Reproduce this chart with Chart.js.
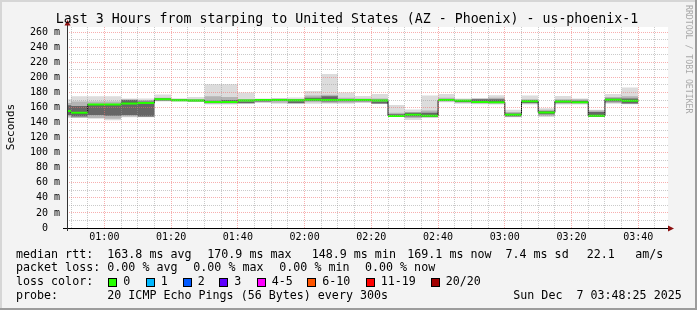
<!DOCTYPE html>
<html><head><meta charset="utf-8">
<script src="https://cdn.jsdelivr.net/npm/chart.js@4/dist/chart.umd.min.js"></script>
<style>html,body{margin:0;padding:0;background:#f3f3f3;}canvas{display:block;}</style>
</head><body>
<canvas id="c" width="697" height="310"></canvas>
<script>
// ---- data ----
const stepEnds = ['00:50','00:55','01:00','01:05','01:10','01:15','01:20','01:25','01:30','01:35','01:40','01:45','01:50','01:55','02:00','02:05','02:10','02:15','02:20','02:25','02:30','02:35','02:40','02:45','02:50','02:55','03:00','03:05','03:10','03:15','03:20','03:25','03:30','03:35','03:40'];
const medianRtt = [155.5,153,164,164,165.5,166,170.9,169.8,169.5,167.5,167.5,169.5,170,170,169.7,170.5,170,170,170,169.5,148.9,150.5,149,170,169,167.5,167,150.5,168.5,153.5,168,167,149,170.5,169.1];
const smokeMax = [171,175,175,175,172,172,177.5,172.5,174,191,191,180,172,172.5,173.5,182,204.5,180,175.5,178,163.5,157.5,176,178,172,172,176.5,157,176,159,175.5,172,157,178,186.5];
const smokeMidHi = [166,168,168,168,171,170,173,171,171,175,174,171,171,172,171,176,177,173,172,172,153,154,156,173,171,172,173,154,171,157,171,171,156,174,175];
const smokeCoreHi = [163,162,164,164,170,168,172,170,170,169,170,168,170.5,171.5,168.5,173,175,171,171,168,151,153,153,171.5,170,171,171,152,169,155,169.5,169,154,172,172];
const smokeCoreLo = [150,148,150,149,150,148,169.5,169,168.5,166,166,166,168,169,166,169,168,168.5,168.5,165.5,148,148,148,169,167.5,166.5,166,148.5,166,151,166.5,166,148.5,168,165.5];
const smokeMidLo = [148,146.5,146,145,148,147.5,169,168.5,168,165,165,165,167,166.5,165,167,166,166.5,167,165,147.5,146,147,168,166,165.5,165,147.5,165,149,165,165,148,166,165];
const smokeMin = [146,146,145,143,147,147,168,168,167.5,164,164,165,166,165,165,165,165,165,166,165,147.5,143.5,146,167,165,164.5,164,147,164,147.5,164,164,147.5,165,164.5];
const xTickLabels = ['01:00','01:20','01:40','02:00','02:20','02:40','03:00','03:20','03:40'];
const yTickValues = [20,40,60,80,100,120,140,160,180,200,220,240,260];
const yTickLabels = ['20 m','40 m','60 m','80 m','100 m','120 m','140 m','160 m','180 m','200 m','220 m','240 m','260 m'];
const lossLabels = ['0','1','2','3','4-5','6-10','11-19','20/20'];
const lossColors = ['#26ff00','#00b8ff','#0059ff','#5e00ff','#ff00ff','#ff5500','#ff0000','#a10000'];
const titleText = 'Last 3 Hours from starping to United States (AZ - Phoenix) - us-phoenix-1';
const rttStats = ['163.8 ms avg','170.9 ms max','148.9 ms min','169.1 ms now','7.4 ms sd','22.1','am/s'];
const lossStats = ['0.00 % avg','0.00 % max','0.00 % min','0.00 % now'];
const probeText = '20 ICMP Echo Pings (56 Bytes) every 300s';
const dateText = 'Sun Dec  7 03:48:25 2025';

// ---- helpers ----
const toMin = s => { const [h, m] = s.split(':').map(Number); return h * 60 + m; };
const xMin = 48.8, xMax = 228.9;
const stepPts = arr => [{x: xMin, y: arr[0]}].concat(stepEnds.map((s, i) => ({x: toMin(s), y: arr[i]})));
const greenPts = [];
stepEnds.forEach((s, i) => {
  const end = toMin(s), start = i === 0 ? xMin : toMin(stepEnds[i - 1]);
  greenPts.push({x: start, y: medianRtt[i]}, {x: end, y: medianRtt[i]}, {x: end, y: null});
});
const MONO = '"DejaVu Sans Mono", monospace';
const minorGrid = 'rgba(150,150,150,0.5)';
const majorGrid = 'rgba(240,110,110,0.55)';

const band = (data, order, fill, bg) => ({
  data: stepPts(data), order, stepped: 'after', pointRadius: 0, borderWidth: 0,
  borderColor: 'rgba(0,0,0,0)', backgroundColor: bg, fill
});

const decor = {
  id: 'decor',
  beforeDraw(chart) {
    const ctx = chart.ctx, W = chart.width, H = chart.height, a = chart.chartArea;
    ctx.save();
    ctx.fillStyle = '#f3f3f3'; ctx.fillRect(0, 0, W, H);
    ctx.fillStyle = '#d6d6d6'; ctx.fillRect(0, 0, W, 2); ctx.fillRect(0, 0, 2, H);
    ctx.fillStyle = '#9c9c9c'; ctx.fillRect(0, H - 2, W, 2); ctx.fillRect(W - 2, 0, 2, H);
    ctx.fillStyle = '#ffffff'; ctx.fillRect(a.left, a.top, a.right - a.left, a.bottom - a.top);
    ctx.restore();
  },
  afterDraw(chart) {
    const ctx = chart.ctx, a = chart.chartArea;
    ctx.save();
    // axes
    ctx.strokeStyle = '#000'; ctx.lineWidth = 1;
    ctx.beginPath(); ctx.moveTo(a.left - 4, a.bottom + 0.5); ctx.lineTo(a.right + 1, a.bottom + 0.5); ctx.stroke();
    ctx.strokeStyle = '#333';
    ctx.beginPath(); ctx.moveTo(a.left + 0.5, a.bottom + 3); ctx.lineTo(a.left + 0.5, a.top - 3); ctx.stroke();
    ctx.fillStyle = '#8b1010';
    ctx.beginPath(); ctx.moveTo(a.right + 6, a.bottom + 0.5); ctx.lineTo(a.right + 0, a.bottom - 2.5); ctx.lineTo(a.right + 0, a.bottom + 3.5); ctx.closePath(); ctx.fill();
    ctx.beginPath(); ctx.moveTo(a.left + 0.5, a.top - 7); ctx.lineTo(a.left - 2.5, a.top - 1.5); ctx.lineTo(a.left + 3.5, a.top - 1.5); ctx.closePath(); ctx.fill();
    // title
    ctx.fillStyle = '#000'; ctx.textBaseline = 'middle';
    ctx.font = '13.25px ' + MONO; ctx.textAlign = 'center';
    ctx.fillText(titleText, 347, 19.5);
    // y title
    ctx.save(); ctx.translate(11, 127); ctx.rotate(-Math.PI / 2);
    ctx.font = '11px ' + MONO; ctx.fillText('Seconds', 0, 0); ctx.restore();
    // watermark
    ctx.save(); ctx.translate(688.5, 5); ctx.rotate(Math.PI / 2);
    ctx.font = '8.2px ' + MONO; ctx.fillStyle = '#a8a8a8'; ctx.textAlign = 'left';
    ctx.fillText('RRDTOOL / TOBI OETIKER', 0, 0); ctx.restore();
    // legend
    ctx.font = '11.66px ' + MONO; ctx.textAlign = 'left'; ctx.fillStyle = '#000';
    const y1 = 254.5, y2 = 268.3, y3 = 282.3, y4 = 296;
    ctx.fillText('median rtt:', 16, y1);
    [107.3, 207.3, 311.7, 407.3, 505.5, 586.7, 635.3].forEach((x, i) => ctx.fillText(rttStats[i], x, y1));
    ctx.fillText('packet loss:', 16, y2);
    [107.3, 193.3, 279.3, 365].forEach((x, i) => ctx.fillText(lossStats[i], x, y2));
    ctx.fillText('loss color:', 16, y3);
    [108.3, 145.7, 182.7, 219.3, 256.7, 307.3, 365.7, 430.7].forEach((x, i) => {
      const sx = Math.round(x) + 0.5;
      ctx.fillStyle = lossColors[i]; ctx.fillRect(sx, 278.5, 8, 8);
      ctx.strokeStyle = '#000'; ctx.strokeRect(sx, 278.5, 8, 8);
      ctx.fillStyle = '#000'; ctx.fillText(lossLabels[i], x + 15, y3);
    });
    ctx.fillText('probe:', 16, y4);
    ctx.fillText(probeText, 107.3, y4);
    ctx.fillText(dateText, 513.3, y4);
    ctx.restore();
  }
};

new Chart(document.getElementById('c'), {
  type: 'line',
  data: {
    datasets: [
      {data: greenPts, order: 0, borderColor: lossColors[0], borderWidth: 2, pointRadius: 0, spanGaps: false, fill: false},
      {data: stepPts(medianRtt), order: 1, stepped: 'after', borderColor: '#111', borderWidth: 1, pointRadius: 0, fill: false},
      band(smokeCoreHi, 2, '+1', '#666666'),
      band(smokeCoreLo, 3, false, 'rgba(0,0,0,0)'),
      band(smokeMidHi, 4, '+1', '#b4b4b4'),
      band(smokeMidLo, 5, false, 'rgba(0,0,0,0)'),
      band(smokeMax, 6, '+1', '#dcdcdc'),
      band(smokeMin, 7, false, 'rgba(0,0,0,0)')
    ]
  },
  options: {
    responsive: false, animation: false, devicePixelRatio: 1,
    layout: {padding: {left: 0, right: 29, top: 27, bottom: 0}},
    plugins: {legend: {display: false}, tooltip: {enabled: false}, title: {display: false}},
    elements: {line: {tension: 0}},
    scales: {
      x: {
        type: 'linear', min: xMin, max: xMax,
        afterBuildTicks: s => { const t = []; for (let v = Math.ceil(xMin / 5) * 5; v < xMax; v += 5) t.push({value: v}); s.ticks = t; },
        afterFit: s => { s.height = 82; },
        ticks: {autoSkip: false, maxRotation: 0, minRotation: 0, padding: 3, color: '#000', font: {family: MONO, size: 10},
          callback: v => { const i = xTickLabels.findIndex(l => toMin(l) === v); return i >= 0 ? xTickLabels[i] : ''; }},
        grid: {z: 1, drawTicks: false, lineWidth: 1, color: c => (c.tick && c.tick.value % 20 === 0) ? majorGrid : minorGrid},
        border: {display: false, dash: [1, 1]}
      },
      y: {
        type: 'linear', min: 0, max: 267,
        afterBuildTicks: s => { const t = []; for (let v = 0; v <= 260; v += 10) t.push({value: v}); s.ticks = t; },
        afterFit: s => { s.width = 67; },
        ticks: {autoSkip: false, padding: 7, color: '#000', font: {family: MONO, size: 10},
          callback: v => { if (v === 0) return '0  '; const i = yTickValues.indexOf(v); return i >= 0 ? yTickLabels[i] : ''; }},
        grid: {z: 1, drawTicks: false, lineWidth: 1, color: c => (c.tick && c.tick.value % 20 === 0) ? majorGrid : minorGrid},
        border: {display: false, dash: [1, 1]}
      }
    }
  },
  plugins: [decor]
});
</script>
</body></html>
